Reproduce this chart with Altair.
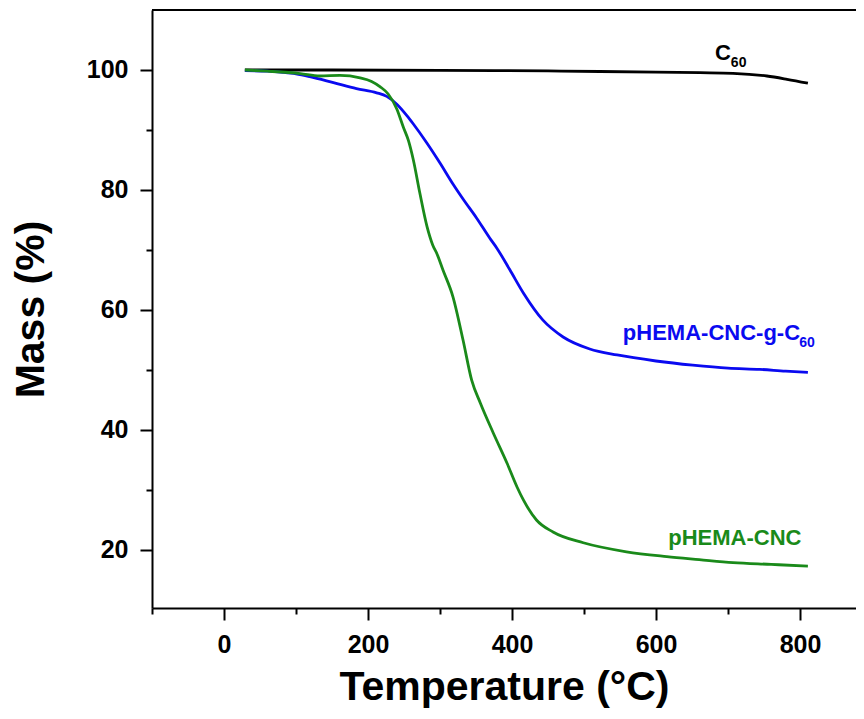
import altair as alt
import pandas as pd

# ---- data ----
c60_T = [29, 150, 300, 450, 522, 600, 661, 707, 754, 782, 811]
c60_M = [100.0, 100.0, 99.95, 99.85, 99.75, 99.65, 99.55, 99.45, 99.0, 98.45, 97.8]

cnc_g_T = [29, 60, 82, 100, 119, 152, 184, 212, 226, 240, 254, 263, 282, 300, 318,
           332, 351, 369, 379, 397, 416, 443, 471, 508, 546, 600, 651, 700, 744, 780, 811]
cnc_g_M = [99.9, 99.8, 99.6, 99.35, 98.9, 97.9, 96.9, 96.2, 95.6, 94.3, 92.4, 91.0, 87.8, 84.5, 81.0,
           78.5, 75.3, 72.0, 70.3, 66.7, 62.8, 58.3, 55.5, 53.5, 52.5, 51.5, 50.8, 50.3, 50.1, 49.8, 49.6]

cnc_T = [29, 60, 106, 133, 161, 189, 205, 217, 228, 240, 249, 256, 263, 272, 282, 290, 296,
         304, 318, 332, 344, 356, 374, 393, 407, 416, 434, 457, 499, 559, 615, 660, 707, 760, 811]
cnc_M = [100.0, 99.8, 99.4, 99.0, 99.1, 98.7, 98.1, 97.2, 96.0, 93.5, 90.5, 88.3, 85.0, 79.5, 73.9, 70.8, 69.3,
         66.7, 62.2, 55.0, 48.3, 44.5, 39.5, 34.5, 30.5, 28.3, 25.0, 23.0, 21.2, 19.7, 18.9, 18.4, 17.9, 17.6, 17.3]

series_names = ["C60", "pHEMA-CNC-g-C60", "pHEMA-CNC"]
series_colors = ["#000000", "#0a0af0", "#1a8a1a"]

x_ticks = list(range(-100, 900, 100))
y_ticks = list(range(20, 110, 10))

rows = []
for name, T, M in zip(series_names, [c60_T, cnc_g_T, cnc_T], [c60_M, cnc_g_M, cnc_M]):
    for t, m in zip(T, M):
        rows.append({"series": name, "T": t, "M": m})
df = pd.DataFrame(rows)

FONT = "Liberation Sans"

x_scale = alt.Scale(domain=[-100, 877.8], nice=False, zero=False)
y_scale = alt.Scale(domain=[10.33, 110], nice=False, zero=False)

x_axis = alt.Axis(
    values=x_ticks, title="Temperature (°C)", grid=False,
    domainColor="black", domainWidth=2, tickColor="black", tickWidth=2,
    tickSize={"condition": {"test": "datum.value % 200 === 0", "value": 12}, "value": 6},
    labelExpr="datum.value % 200 === 0 ? datum.label : ''",
    labelFont=FONT, labelFontSize=25, labelFontWeight="bold", labelColor="black",
    labelPadding=12, labelFlush=False,
    titleFont=FONT, titleFontSize=41, titleFontWeight="bold", titleColor="black",
    titlePadding=10,
)
y_axis = alt.Axis(
    values=y_ticks, title="Mass (%)", grid=False,
    domainColor="black", domainWidth=2, tickColor="black", tickWidth=2,
    tickSize={"condition": {"test": "datum.value % 20 === 0", "value": 12}, "value": 6},
    labelExpr="datum.value % 20 === 0 ? datum.label : ''",
    labelFont=FONT, labelFontSize=25, labelFontWeight="bold", labelColor="black",
    labelPadding=12, labelFlush=False,
    titleFont=FONT, titleFontSize=41, titleFontWeight="bold", titleColor="black",
    titlePadding=34,
)

lines = alt.Chart(df).mark_line(strokeWidth=2.8, interpolate="monotone").encode(
    x=alt.X("T:Q", scale=x_scale, axis=x_axis),
    y=alt.Y("M:Q", scale=y_scale, axis=y_axis),
    color=alt.Color("series:N", scale=alt.Scale(domain=series_names, range=series_colors), legend=None),
    detail="series:N",
)

one = pd.DataFrame({"a": [0]})

# top frame line (the right side of the frame is cut off in the reference)
top_frame = alt.Chart(one).mark_rule(color="black", strokeWidth=2).encode(y=alt.value(0))

def label(text, x, y, color, size):
    return alt.Chart(one).mark_text(
        text=text, align="left", baseline="alphabetic", font=FONT,
        fontWeight="bold", fontSize=size, color=color,
    ).encode(x=alt.datum(x, scale=x_scale), y=alt.datum(y, scale=y_scale))

labels = [
    label("C", 682, 101.67, "#000000", 22),
    label("60", 704, 100.5, "#000000", 14),
    label("pHEMA-CNC-g-C", 554, 55.0, "#0a0af0", 22),
    label("60", 799, 53.83, "#0a0af0", 14),
    label("pHEMA-CNC", 617, 20.83, "#1a8a1a", 22),
]

chart = alt.layer(lines, top_frame, *labels).properties(
    width=704, height=598,
    autosize=alt.AutoSizeParams(type="none"),
    padding={"left": 144, "top": 2, "right": 0, "bottom": 100},
    background="white",
).configure_view(strokeWidth=0)

chart.save("out.html", embed_options={"renderer": "svg", "actions": False})
